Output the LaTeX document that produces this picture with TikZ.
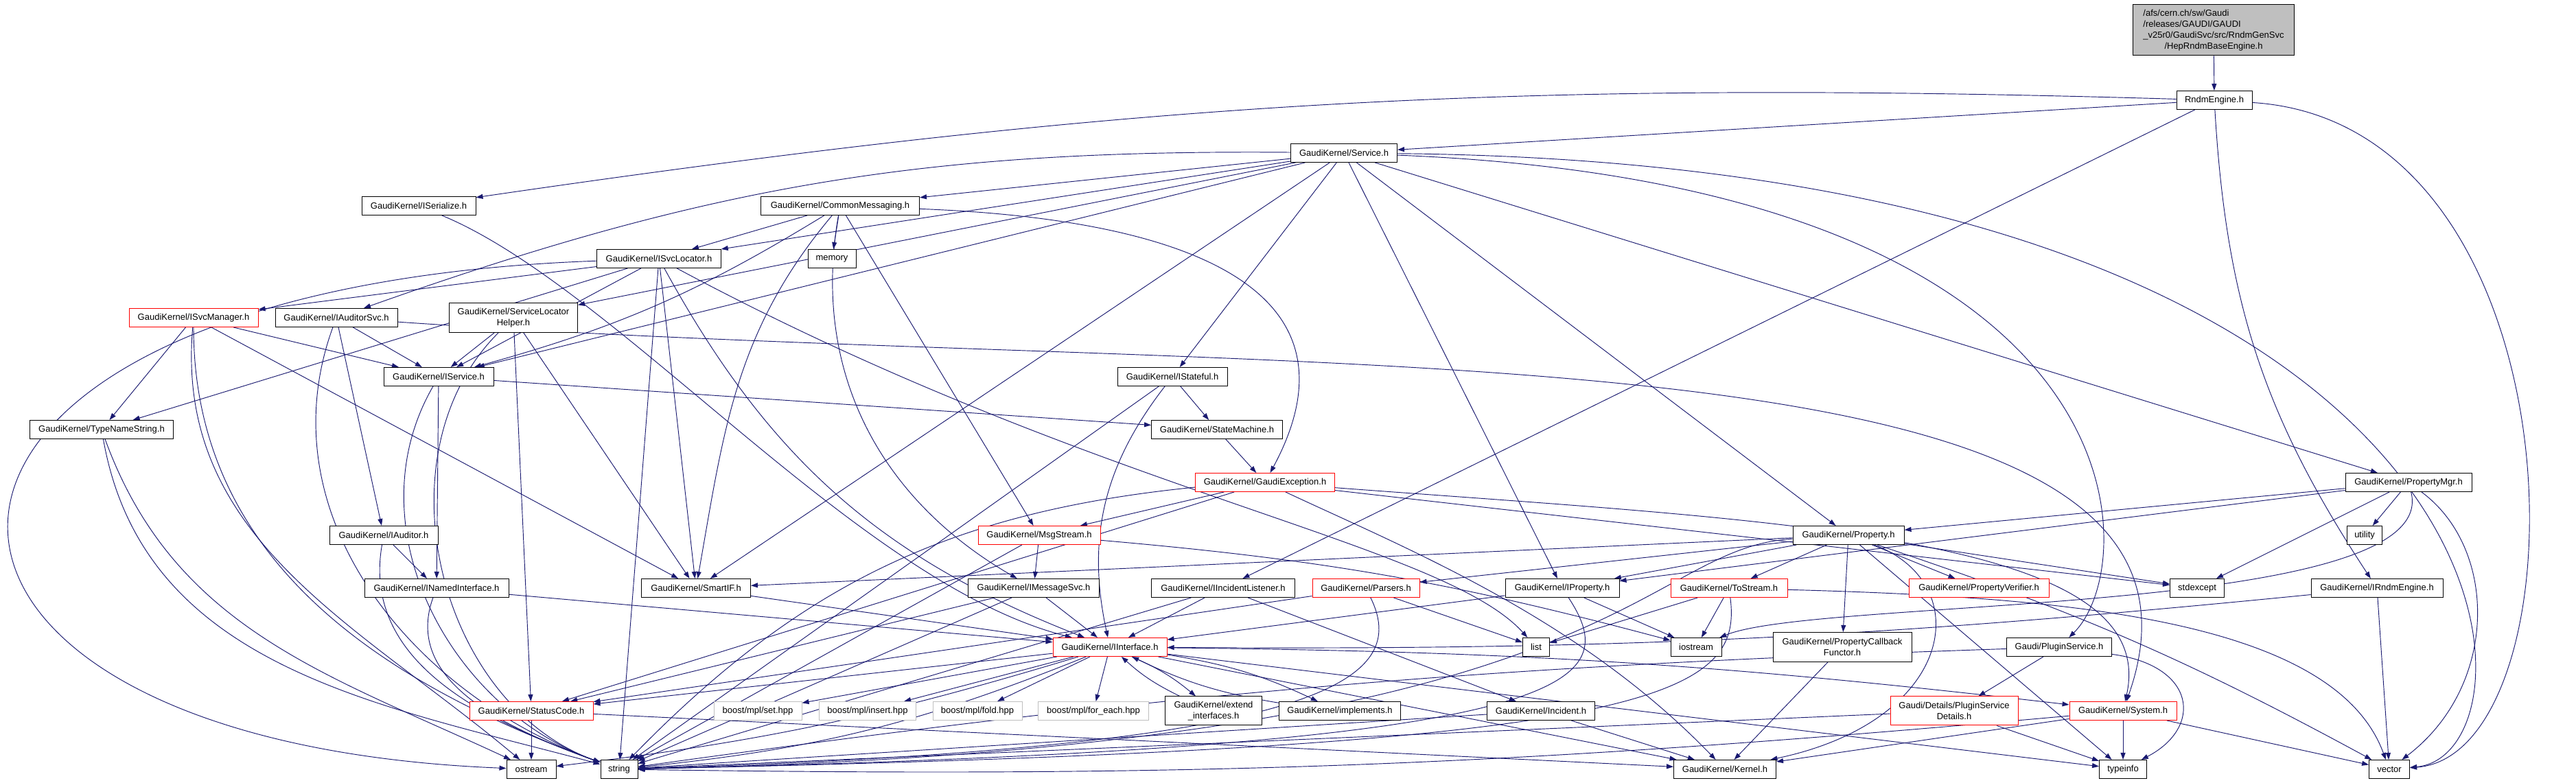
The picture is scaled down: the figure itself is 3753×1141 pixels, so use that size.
\documentclass[tikz,border=0pt]{standalone}
\usepackage{fontspec}
\setmainfont{Liberation Sans}
\usetikzlibrary{arrows.meta,backgrounds}
\definecolor{doxyedge}{RGB}{25,25,112}
\definecolor{doxygray}{RGB}{191,191,191}
\tikzset{
  incgraph/.style={x=0.15pt,y=-0.15pt,>={Triangle[length=1.5pt,width=1.05pt]},
    every node/.style={font=\fontsize{1.95}{2.4}\selectfont}},
  hdr/.style={draw=black,fill=white,line width=0.15pt,inner sep=0pt,minimum height=0.15*27,align=center},
  hdrred/.style={hdr,draw=red},
  hdrsys/.style={hdr,draw=doxygray},
  hdrtop/.style={hdr,fill=doxygray},
  bw/.style={minimum width=0.15*#1},
  bh/.style={minimum height=0.15*#1},
  incl/.style={->,color=doxyedge,line width=0.14pt},
}
\begin{document}
\begin{tikzpicture}[incgraph]
  \useasboundingbox (0,0) rectangle (3753,1141);
  % headers, row by row
  \node[hdrtop,bw=235,bh=74] (hep) at (3225,44)
    {\begin{tabular}{@{}l@{}}/afs/cern.ch/sw/Gaudi\\/releases/GAUDI/GAUDI\\\_v25r0/GaudiSvc/src/RndmGenSvc\\\multicolumn{1}{@{}c@{}}{/HepRndmBaseEngine.h}\end{tabular}};
  \node[hdr,bw=110] (rndm) at (3226,146) {RndmEngine.h};
  \node[hdr,bw=155] (service) at (1958,223) {GaudiKernel/Service.h};
  \node[hdr,bw=166] (iserialize) at (610,300) {GaudiKernel/ISerialize.h};
  \node[hdr,bw=231] (commonmsg) at (1224,300) {GaudiKernel/CommonMessaging.h};
  \node[hdr,bw=181] (isvcloc) at (960,377) {GaudiKernel/ISvcLocator.h};
  \node[hdr,bw=70] (memory) at (1212,377) {memory};
  \node[hdrred,bw=188] (isvcmgr) at (282,463) {GaudiKernel/ISvcManager.h};
  \node[hdr,bw=178] (iauditorsvc) at (490,463) {GaudiKernel/IAuditorSvc.h};
  \node[hdr,bw=187,bh=43] (svclochelper) at (748,463) {GaudiKernel/ServiceLocator\\Helper.h};
  \node[hdr,bw=160] (iservice) at (639,549) {GaudiKernel/IService.h};
  \node[hdr,bw=160] (istateful) at (1708,549) {GaudiKernel/IStateful.h};
  \node[hdr,bw=209] (typename) at (148,626) {GaudiKernel/TypeNameString.h};
  \node[hdr,bw=191] (statemachine) at (1773,626) {GaudiKernel/StateMachine.h};
  \node[hdrred,bw=203] (gaudiexc) at (1843,703) {GaudiKernel/GaudiException.h};
  \node[hdr,bw=184] (propmgr) at (3509,703) {GaudiKernel/PropertyMgr.h};
  \node[hdr,bw=158] (iauditor) at (559,780) {GaudiKernel/IAuditor.h};
  \node[hdrred,bw=178] (msgstream) at (1514,780) {GaudiKernel/MsgStream.h};
  \node[hdr,bw=162] (property) at (2693,780) {GaudiKernel/Property.h};
  \node[hdr,bw=51] (utility) at (3445,780) {utility};
  \node[hdr,bw=210] (inamedif) at (636,857) {GaudiKernel/INamedInterface.h};
  \node[hdr,bw=159] (smartif) at (1014,857) {GaudiKernel/SmartIF.h};
  \node[hdr,bw=191] (imsgsvc) at (1506,857) {GaudiKernel/IMessageSvc.h};
  \node[hdr,bw=209] (iinclistener) at (1782,857) {GaudiKernel/IIncidentListener.h};
  \node[hdrred,bw=156] (parsers) at (1990,857) {GaudiKernel/Parsers.h};
  \node[hdr,bw=166] (iprop) at (2276,857) {GaudiKernel/IProperty.h};
  \node[hdrred,bw=170] (tostream) at (2519,857) {GaudiKernel/ToStream.h};
  \node[hdrred,bw=204] (propverifier) at (2883,857) {GaudiKernel/PropertyVerifier.h};
  \node[hdr,bw=79] (stdexcept) at (3201,857) {stdexcept};
  \node[hdr,bw=192] (irndmeng) at (3463,857) {GaudiKernel/IRndmEngine.h};
  \node[hdrred,bw=166] (iinterface) at (1617,943) {GaudiKernel/IInterface.h};
  \node[hdr,bw=39] (list) at (2238,943) {list};
  \node[hdr,bw=74] (iostream) at (2471,943) {iostream};
  \node[hdr,bw=202,bh=43] (propcallback) at (2684,943) {GaudiKernel/PropertyCallback\\Functor.h};
  \node[hdr,bw=153] (pluginsvc) at (3000,943) {Gaudi/PluginService.h};
  \node[hdrred,bw=180] (statuscode) at (774,1036) {GaudiKernel/StatusCode.h};
  \node[hdrsys,bw=128] (mplset) at (1104,1036) {boost/mpl/set.hpp};
  \node[hdrsys,bw=141] (mplinsert) at (1264,1036) {boost/mpl/insert.hpp};
  \node[hdrsys,bw=130] (mplfold) at (1424,1036) {boost/mpl/fold.hpp};
  \node[hdrsys,bw=161] (mplforeach) at (1593,1036) {boost/mpl/for\_each.hpp};
  \node[hdr,bw=141,bh=42] (extendif) at (1768,1036) {GaudiKernel/extend\\\_interfaces.h};
  \node[hdr,bw=177] (implements) at (1952,1036) {GaudiKernel/implements.h};
  \node[hdr,bw=157] (incident) at (2245,1036) {GaudiKernel/Incident.h};
  \node[hdrred,bw=186,bh=42] (plugindetails) at (2847,1036) {Gaudi/Details/PluginService\\Details.h};
  \node[hdrred,bw=156] (system) at (3093,1036) {GaudiKernel/System.h};
  \node[hdr,bw=72] (ostream) at (774,1121) {ostream};
  \node[hdr,bw=54] (string) at (902,1121) {string};
  \node[hdr,bw=149] (kernel) at (2513,1121) {GaudiKernel/Kernel.h};
  \node[hdr,bw=69] (typeinfo) at (3093,1121) {typeinfo};
  \node[hdr,bw=59] (vector) at (3481,1121) {vector};

  % include edges, behind the boxes
  \begin{scope}[on background layer]
  \fill[white] (0,0) rectangle (3753,1141);
  \path[incl]
    (hep) edge (rndm)
    (rndm) edge (service)
    (rndm) edge[bend right=5] (iserialize)
    (rndm) edge (iinclistener)
    (rndm) edge[bend right=15] (irndmeng)
    (service) edge (iservice)
    (service) edge (isvcloc)
    (service) edge (svclochelper)
    (service) edge (iprop)
    (service) edge (propmgr)
    (service) edge (property)
    (service) edge[bend right=10] (iauditorsvc)
    (service) edge (commonmsg)
    (service) edge (smartif)
    (service) edge (istateful)
    (commonmsg) edge (isvcloc)
    (commonmsg) edge (memory)
    (commonmsg) edge (msgstream)
    (commonmsg) edge[bend left=8] (iservice)
    (commonmsg) edge[out=-100,in=150] (imsgsvc)
    (commonmsg) edge[out=-130,in=80] (smartif)
    (isvcloc) edge (isvcmgr)
    (isvcloc) edge (typename)
    (isvcloc) edge (iservice)
    (isvcloc) edge (smartif)
    (isvcloc) edge (string)
    (isvcloc) edge[bend right=20] (iinterface)
    (isvcmgr) edge (iservice)
    (isvcmgr) edge (typename)
    (isvcmgr) edge (smartif)
    (isvcmgr) edge[out=-90,in=160] (string)
    (isvcmgr) edge[out=-95,in=140] (ostream)
    (iauditorsvc) edge (iservice)
    (iauditorsvc) edge (iauditor)
    (iauditorsvc) edge[out=-110,in=160] (string)
    (svclochelper) edge (iservice)
    (svclochelper) edge (smartif)
    (svclochelper) edge (statuscode)
    (svclochelper) edge[out=-135,in=160] (string)
    (iservice) edge (inamedif)
    (iservice) edge (statemachine)
    (iservice) edge[out=-120,in=160] (string)
    (typename) edge[out=-80,in=165] (string)
    (typename) edge[out=-70,in=155] (ostream)
    (istateful) edge (statemachine)
    (istateful) edge[bend right=25] (iinterface)
    (istateful) edge (string)
    (statemachine) edge (gaudiexc)
    (gaudiexc) edge (msgstream)
    (gaudiexc) edge (statuscode)
    (gaudiexc) edge[bend right=20] (string)
    (gaudiexc) edge (stdexcept)
    (msgstream) edge (imsgsvc)
    (msgstream) edge (string)
    (msgstream) edge[bend left=5] (iostream)
    (property) edge (parsers)
    (property) edge (iprop)
    (property) edge (tostream)
    (property) edge (propverifier)
    (property) edge (propcallback)
    (property) edge (smartif)
    (property) edge (stdexcept)
    (property) edge (typeinfo)
    (property) edge[bend left=5] (vector)
    (propmgr) edge (property)
    (propmgr) edge (iprop)
    (propmgr) edge (utility)
    (propmgr) edge (stdexcept)
    (iprop) edge (iinterface)
    (iprop) edge (iostream)
    (parsers) edge (list)
    (parsers) edge (statuscode)
    (tostream) edge (list)
    (tostream) edge (iostream)
    (propcallback) edge (kernel)
    (iinclistener) edge (iinterface)
    (iinclistener) edge (incident)
    (iinclistener) edge (string)
    (incident) edge (kernel)
    (incident) edge (string)
    (imsgsvc) edge (iinterface)
    (imsgsvc) edge (string)
    (imsgsvc) edge (statuscode)
    (inamedif) edge (iinterface)
    (inamedif) edge[out=-110,in=160] (string)
    (iauditor) edge (inamedif)
    (iauditor) edge[out=-100,in=160] (string)
    (smartif) edge (iinterface)
    (iinterface) edge (mplset)
    (iinterface) edge (mplinsert)
    (iinterface) edge (mplfold)
    (iinterface) edge (mplforeach)
    (iinterface) edge[bend left=8] (extendif)
    (extendif) edge[bend left=8] (iinterface)
    (iinterface) edge[bend left=8] (implements)
    (implements) edge[bend left=8] (iinterface)
    (iinterface) edge (statuscode)
    (iinterface) edge[bend left=5] (ostream)
    (iinterface) edge[bend left=8] (string)
    (iinterface) edge[bend left=3] (system)
    (iinterface) edge (kernel)
    (iinterface) edge (typeinfo)
    (statuscode) edge (ostream)
    (statuscode) edge (kernel)
    (pluginsvc) edge (plugindetails)
    (pluginsvc) edge[bend right=3] (string)
    (plugindetails) edge (typeinfo)
    (plugindetails) edge (string)
    (system) edge (typeinfo)
    (system) edge (vector)
    (system) edge (kernel)
    (system) edge[bend left=3] (string)
    (irndmeng) edge[bend left=3] (iinterface)
    (irndmeng) edge (vector);
  % long detours round the other boxes
  \draw[incl] (rndm) .. controls (3770,180) and (3770,1100) .. (vector);
  \draw[incl] (service) .. controls (3700,240) and (3720,1100) .. (vector);
  \draw[incl] (service) .. controls (3130,270) and (3125,820) .. (pluginsvc);
  \draw[incl] (iserialize) .. controls (900,420) and (1250,850) .. (iinterface);
  \draw[incl] (commonmsg) .. controls (1750,320) and (1990,430) .. (gaudiexc);
  \draw[incl] (isvcloc) .. controls (-250,420) and (-250,1080) .. (ostream);
  \draw[incl] (isvcloc) .. controls (1600,720) and (2100,790) .. (list);
  \draw[incl] (iauditorsvc) .. controls (1900,560) and (3300,450) .. (system);
  \draw[incl] (gaudiexc) .. controls (2600,760) and (3150,780) .. (system);
  \draw[incl] (gaudiexc) .. controls (2050,800) and (2300,900) .. (kernel);
  \draw[incl] (property) .. controls (2880,850) and (2850,1050) .. (kernel);
  \draw[incl] (property) .. controls (2380,800) and (2380,1090) .. (string);
  \draw[incl] (propmgr) .. controls (3560,900) and (2650,870) .. (iostream);
  \draw[incl] (propmgr) .. controls (3640,800) and (3640,1000) .. (vector);
  \draw[incl] (iprop) .. controls (2370,1000) and (2300,1090) .. (string);
  \draw[incl] (parsers) .. controls (2060,1000) and (1900,1090) .. (string);
  \draw[incl] (tostream) .. controls (2540,1020) and (2400,1090) .. (string);
  \draw[incl] (tostream) .. controls (3000,870) and (3400,900) .. (vector);
  \draw[incl] (pluginsvc) .. controls (3200,970) and (3210,1060) .. (typeinfo);
  \end{scope}
\end{tikzpicture}
\end{document}
